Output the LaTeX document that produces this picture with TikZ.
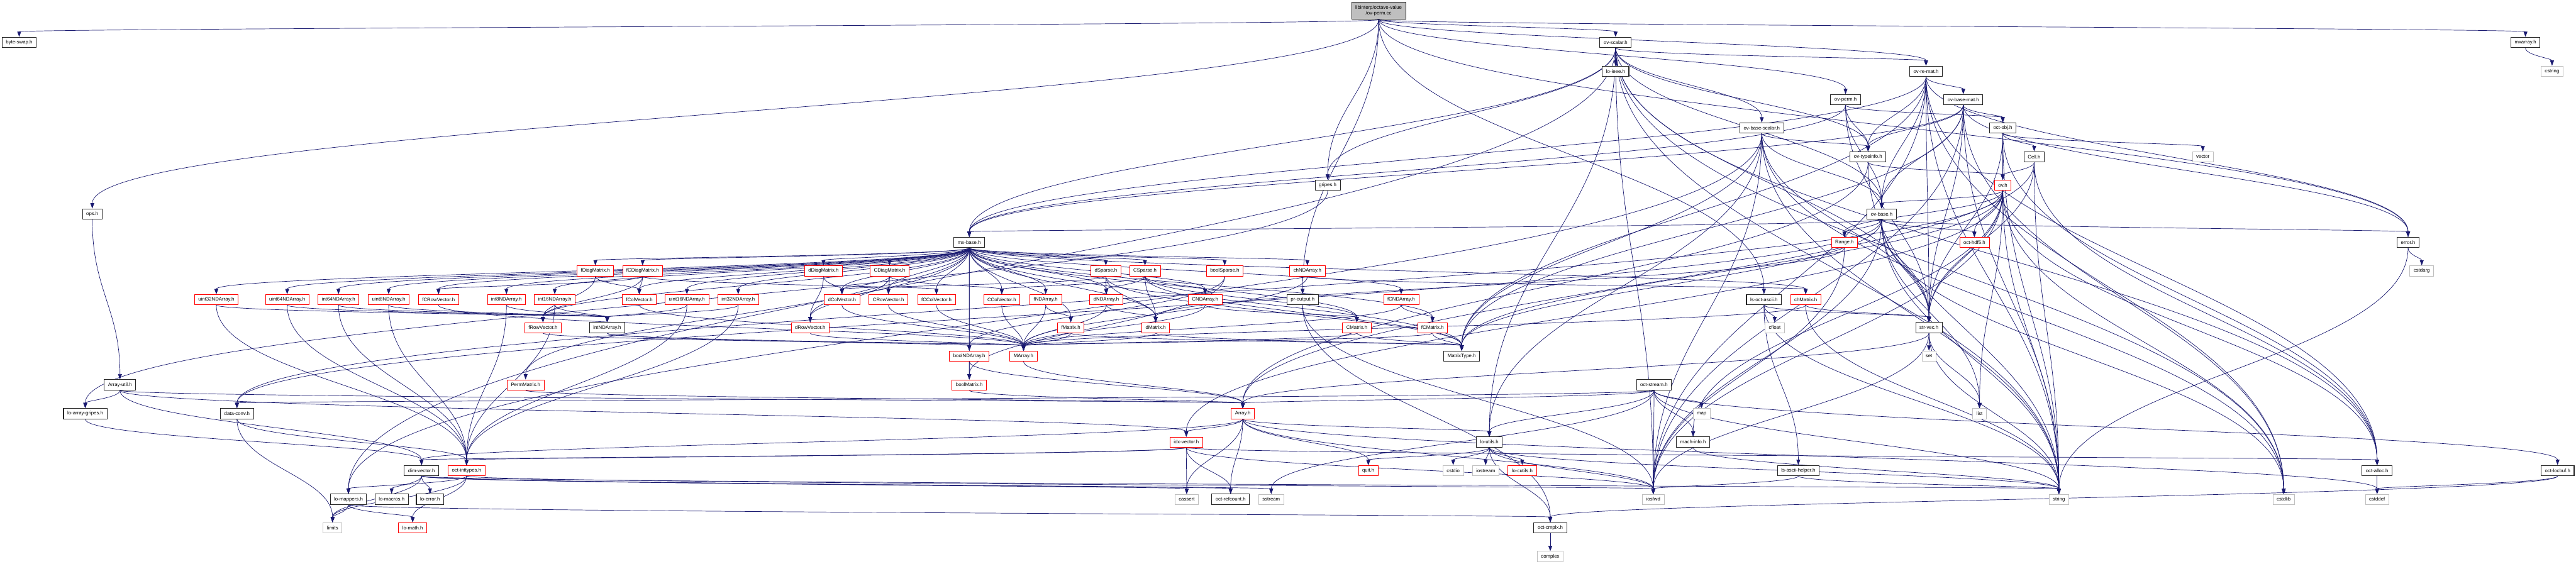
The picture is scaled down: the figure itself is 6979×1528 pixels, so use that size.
\documentclass[tikz,border=0pt]{standalone}
\usepackage{fontspec}
\newfontfamily\dfont{Liberation Sans}
\usetikzlibrary{arrows.meta,calc}
\definecolor{edgeblue}{HTML}{191970}
\definecolor{sysgrey}{HTML}{BFBFBF}
\pgfdeclarelayer{bg}
\pgfsetlayers{bg,main}
\tikzset{
  box/.style={draw, font=\dfont\fontsize{3.33}{4.1}\selectfont, minimum height=7pt, inner xsep=2.6pt, inner ysep=0pt, fill=white},
  blk/.style={box, draw=black!85, line width=0.45pt},
  redbox/.style={box, draw=red, line width=0.3pt},
  sys/.style={box, draw=sysgrey, line width=0.3pt},
  rootbox/.style={box, draw=black!85, line width=0.45pt, fill=sysgrey, align=center, minimum height=11.75pt, inner ysep=1pt},
  dep/.style={draw=edgeblue, line width=0.3pt, -{Triangle[length=3.6pt,width=2.6pt]},
    to path={.. controls ($(\tikztostart)!0.45!(\tikztostart |- \tikztotarget)$) and ($(\tikztotarget)!0.45!(\tikztotarget |- \tikztostart)$) .. (\tikztotarget)}}
}
\begin{document}
\begin{tikzpicture}[x=0.25pt,y=-0.25pt]
\useasboundingbox (0,0) rectangle (6979,1528);
% rank 0-8
\node[rootbox] (root) at (3735,29) {libinterp/octave-value\\/ov-perm.cc};
\node[blk] (byteswap) at (52,115) {byte-swap.h};
\node[blk] (ovscalar) at (4377,115) {ov-scalar.h};
\node[blk] (mxarray) at (6842,115) {mxarray.h};
\node[blk] (loieee) at (4377,193) {lo-ieee.h};
\node[blk] (ovremat) at (5218,193) {ov-re-mat.h};
\node[sys] (cstring) at (6914,193) {cstring};
\node[blk] (ovpermh) at (5000,270) {ov-perm.h};
\node[blk] (ovbasemat) at (5319,270) {ov-base-mat.h};
\node[blk] (ovbasescalar) at (4773,347) {ov-base-scalar.h};
\node[blk] (octobj) at (5426,347) {oct-obj.h};
\node[blk] (ovtypeinfo) at (5061,425) {ov-typeinfo.h};
\node[blk] (cell) at (5511,425) {Cell.h};
\node[sys] (vector) at (5968,425) {vector};
\node[blk] (gripes) at (3597,502) {gripes.h};
\node[redbox] (ovh) at (5426,502) {ov.h};
\node[blk] (ops) at (250,580) {ops.h};
\node[blk] (ovbase) at (5098,580) {ov-base.h};
\node[blk] (mxbase) at (2626,657) {mx-base.h};
\node[redbox] (range) at (4997,657) {Range.h};
\node[redbox] (octhdf5) at (5349,657) {oct-hdf5.h};
\node[blk] (error) at (6524,657) {error.h};
% rank 9
\node[redbox] (fDiag) at (1613,734) {fDiagMatrix.h};
\node[redbox] (fCDiag) at (1741,734) {fCDiagMatrix.h};
\node[redbox] (dDiag) at (2231,734) {dDiagMatrix.h};
\node[redbox] (CDiag) at (2410,734) {CDiagMatrix.h};
\node[redbox] (dSparse) at (2996,734) {dSparse.h};
\node[redbox] (CSparse) at (3102,734) {CSparse.h};
\node[redbox] (boolSparse) at (3318,734) {boolSparse.h};
\node[redbox] (chNDArray) at (3542,734) {chNDArray.h};
\node[sys] (cstdarg) at (6561,734) {cstdarg};
% rank 10
\node[redbox] (uint32) at (586,812) {uint32NDArray.h};
\node[redbox] (uint64) at (778,812) {uint64NDArray.h};
\node[redbox] (int64) at (917,812) {int64NDArray.h};
\node[redbox] (uint8) at (1053,812) {uint8NDArray.h};
\node[redbox] (fCRowVec) at (1188,812) {fCRowVector.h};
\node[redbox] (int8) at (1372,812) {int8NDArray.h};
\node[redbox] (int16) at (1503,812) {int16NDArray.h};
\node[redbox] (fColVec) at (1732,812) {fColVector.h};
\node[redbox] (uint16) at (1861,812) {uint16NDArray.h};
\node[redbox] (int32) at (2000,812) {int32NDArray.h};
\node[redbox] (dColVec) at (2281,812) {dColVector.h};
\node[redbox] (CRowVec) at (2407,812) {CRowVector.h};
\node[redbox] (fCColVec) at (2537,812) {fCColVector.h};
\node[redbox] (CColVec) at (2714,812) {CColVector.h};
\node[redbox] (fNDArray) at (2833,812) {fNDArray.h};
\node[redbox] (dNDArray) at (2997,812) {dNDArray.h};
\node[redbox] (CNDArray) at (3265,812) {CNDArray.h};
\node[blk] (proutput) at (3529,812) {pr-output.h};
\node[redbox] (fCNDArray) at (3796,812) {fCNDArray.h};
\node[blk] (lsoctascii) at (4779,812) {ls-oct-ascii.h};
\node[redbox] (chMatrix) at (4892,812) {chMatrix.h};
% rank 11
\node[redbox] (fRowVec) at (1471,888) {fRowVector.h};
\node[blk] (intNDArray) at (1645,888) {intNDArray.h};
\node[redbox] (dRowVec) at (2195,888) {dRowVector.h};
\node[redbox] (fMatrix) at (2901,888) {fMatrix.h};
\node[redbox] (dMatrix) at (3131,888) {dMatrix.h};
\node[redbox] (CMatrix) at (3676,888) {CMatrix.h};
\node[redbox] (fCMatrix) at (3881,888) {fCMatrix.h};
\node[sys] (cfloat) at (4808,888) {cfloat};
\node[blk] (strvec) at (5226,888) {str-vec.h};
% rank 12
\node[redbox] (boolNDArray) at (2626,965) {boolNDArray.h};
\node[redbox] (MArray) at (2773,965) {MArray.h};
\node[blk] (MatrixType) at (3960,965) {MatrixType.h};
\node[sys] (set) at (5226,965) {set};
% rank 13
\node[blk] (ArrayUtil) at (325,1043) {Array-util.h};
\node[redbox] (PermMatrix) at (1424,1043) {PermMatrix.h};
\node[redbox] (boolMatrix) at (2626,1043) {boolMatrix.h};
\node[blk] (octstream) at (4481,1043) {oct-stream.h};
% rank 14
\node[blk] (loarraygripes) at (231,1121) {lo-array-gripes.h};
\node[blk] (dataconv) at (642,1121) {data-conv.h};
\node[redbox] (Array) at (3367,1121) {Array.h};
\node[sys] (map) at (4610,1121) {map};
\node[sys] (list) at (5363,1121) {list};
% rank 15
\node[redbox] (idxvector) at (3214,1198) {idx-vector.h};
\node[blk] (loutils) at (4035,1198) {lo-utils.h};
\node[blk] (machinfo) at (4587,1198) {mach-info.h};
% rank 16
\node[blk] (dimvector) at (1142,1275) {dim-vector.h};
\node[redbox] (octinttypes) at (1264,1275) {oct-inttypes.h};
\node[redbox] (quit) at (3707,1275) {quit.h};
\node[sys] (cstdio) at (3937,1275) {cstdio};
\node[sys] (iostream) at (4025,1275) {iostream};
\node[redbox] (locutils) at (4124,1275) {lo-cutils.h};
\node[blk] (lsasciihelper) at (4872,1275) {ls-ascii-helper.h};
\node[blk] (octalloc) at (6440,1275) {oct-alloc.h};
\node[blk] (octlocbuf) at (6929,1275) {oct-locbuf.h};
% rank 17
\node[blk] (lomappers) at (944,1353) {lo-mappers.h};
\node[blk] (lomacros) at (1061,1353) {lo-macros.h};
\node[blk] (loerror) at (1165,1353) {lo-error.h};
\node[sys] (cassert) at (3215,1353) {cassert};
\node[blk] (octrefcount) at (3334,1353) {oct-refcount.h};
\node[sys] (sstream) at (3444,1353) {sstream};
\node[sys] (iosfwd) at (4479,1353) {iosfwd};
\node[sys] (string) at (5578,1353) {string};
\node[sys] (cstdlib) at (6187,1353) {cstdlib};
\node[sys] (cstddef) at (6440,1353) {cstddef};
% rank 18-19
\node[sys] (limits) at (901,1430) {limits};
\node[redbox] (lomath) at (1118,1430) {lo-math.h};
\node[blk] (octcmplx) at (4200,1430) {oct-cmplx.h};
\node[sys] (complex) at (4200,1508) {complex};

\begin{pgfonlayer}{bg}
\foreach \s/\t in {
 root/byteswap, root/ovscalar, root/mxarray, root/ovremat, root/ovpermh, root/gripes, root/ops, root/error, root/proutput, root/lsoctascii,
 ovscalar/loieee, ovscalar/ovremat, ovscalar/gripes, ovscalar/ovbasescalar, ovscalar/ovtypeinfo, ovscalar/ovbase, ovscalar/mxbase, ovscalar/lomappers, ovscalar/loutils, ovscalar/strvec, ovscalar/octalloc, ovscalar/cstdlib, ovscalar/iosfwd, ovscalar/string,
 ovremat/ovbasemat, ovremat/ovtypeinfo, ovremat/ovbase, ovremat/mxbase, ovremat/MatrixType, ovremat/error, ovremat/octalloc, ovremat/strvec, ovremat/cstdlib, ovremat/iosfwd, ovremat/string,
 ovpermh/octobj, ovpermh/ovtypeinfo, ovpermh/ovbase, ovpermh/mxbase, ovpermh/strvec,
 ovbasemat/octobj, ovbasemat/ovtypeinfo, ovbasemat/ovbase, ovbasemat/mxbase, ovbasemat/MatrixType, ovbasemat/error, ovbasemat/strvec, ovbasemat/cstdlib, ovbasemat/iosfwd, ovbasemat/string,
 ovbasescalar/ovtypeinfo, ovbasescalar/ovbase, ovbasescalar/lomappers, ovbasescalar/loutils, ovbasescalar/MatrixType, ovbasescalar/strvec, ovbasescalar/cstdlib, ovbasescalar/iosfwd, ovbasescalar/string,
 octobj/cell, octobj/ovh, octobj/vector, octobj/octalloc, octobj/strvec, octobj/string,
 cell/ovh, cell/Array, cell/octalloc, cell/strvec, cell/string,
 ovtypeinfo/ovh, ovtypeinfo/Array, ovtypeinfo/string,
 ovh/ovbase, ovh/range, ovh/octhdf5, ovh/dataconv, ovh/idxvector, ovh/machinfo, ovh/MatrixType, ovh/octalloc, ovh/strvec, ovh/list, ovh/cstdlib, ovh/iosfwd, ovh/string,
 ovbase/range, ovbase/octhdf5, ovbase/error, ovbase/dataconv, ovbase/mxbase, ovbase/MatrixType, ovbase/strvec, ovbase/list, ovbase/cstdlib, ovbase/iosfwd, ovbase/string,
 gripes/loarraygripes, ops/ArrayUtil, mxarray/cstring, error/cstdarg, error/string, range/dMatrix, range/iosfwd}
 { \draw[dep] (\s) to (\t); }
\foreach \t in {fDiag, fCDiag, dDiag, CDiag, dSparse, CSparse, boolSparse, chNDArray, uint32, uint64, int64, uint8, fCRowVec, int8, int16, fColVec, uint16, int32, dColVec, CRowVec, fCColVec, CColVec, fNDArray, dNDArray, CNDArray, fCNDArray, fRowVec, dRowVec, fMatrix, dMatrix, CMatrix, fCMatrix, boolNDArray, boolMatrix, chMatrix, PermMatrix, MatrixType}
 { \draw[dep] (mxbase) to (\t); }
\foreach \s in {int8, int16, int32, int64, uint8, uint16, uint32, uint64}
 { \draw[dep] (\s) to (intNDArray); \draw[dep] (\s) to (octinttypes); }
\foreach \s in {fCRowVec, fColVec, dColVec, CRowVec, fCColVec, CColVec, fRowVec, dRowVec, fNDArray, dNDArray, CNDArray, fCNDArray, fMatrix, dMatrix, CMatrix, fCMatrix, chNDArray, chMatrix, intNDArray}
 { \draw[dep] (\s) to (MArray); }
\foreach \s/\t in {
 fDiag/fRowVec, fDiag/fColVec,
 fCDiag/fCRowVec, fCDiag/fCColVec, fCDiag/fRowVec, fCDiag/fColVec,
 dDiag/dRowVec, dDiag/dColVec,
 CDiag/CRowVec, CDiag/CColVec, CDiag/dRowVec, CDiag/dColVec,
 dSparse/dMatrix, dSparse/dNDArray, dSparse/dColVec, dSparse/MatrixType,
 CSparse/dMatrix, CSparse/dNDArray, CSparse/CNDArray, CSparse/CMatrix, CSparse/CColVec, CSparse/MatrixType,
 boolSparse/boolMatrix, boolSparse/boolNDArray, chNDArray/chMatrix,
 fNDArray/fMatrix, dNDArray/dMatrix, CNDArray/CMatrix, fCNDArray/fCMatrix,
 fMatrix/MatrixType, dMatrix/MatrixType, CMatrix/MatrixType, fCMatrix/MatrixType,
 proutput/octcmplx, proutput/iosfwd,
 lsoctascii/cfloat, lsoctascii/strvec, lsoctascii/lsasciihelper, lsoctascii/string,
 chMatrix/strvec, chMatrix/string, intNDArray/boolNDArray,
 strvec/set, strvec/list, strvec/string, strvec/Array, strvec/iosfwd,
 boolNDArray/boolMatrix, boolNDArray/Array, MArray/Array, boolMatrix/Array, PermMatrix/Array,
 ArrayUtil/loarraygripes, ArrayUtil/dimvector, ArrayUtil/Array, ArrayUtil/idxvector,
 octstream/map, octstream/machinfo, octstream/iosfwd, octstream/sstream, octstream/string, octstream/loutils, octstream/dataconv, octstream/Array, octstream/octlocbuf,
 loarraygripes/dimvector, dataconv/limits, dataconv/octinttypes,
 Array/idxvector, Array/cassert, Array/octrefcount, Array/dimvector, Array/loutils, Array/quit, Array/cstddef, Array/iosfwd,
 idxvector/cassert, idxvector/octrefcount, idxvector/dimvector, idxvector/octinttypes, idxvector/octalloc, idxvector/iosfwd,
 loutils/cstdio, loutils/iostream, loutils/locutils, loutils/quit, loutils/octcmplx, loutils/iosfwd, loutils/string,
 machinfo/string,
 dimvector/lomacros, dimvector/loerror, dimvector/limits, dimvector/sstream, dimvector/string, dimvector/cassert, dimvector/octrefcount,
 octinttypes/lomath, octinttypes/lomappers, octinttypes/limits, octinttypes/iosfwd,
 lomappers/limits, lomappers/lomath, lomappers/octcmplx,
 lsasciihelper/iosfwd, lsasciihelper/string,
 octalloc/cstddef, octlocbuf/cstddef, octlocbuf/octcmplx, octcmplx/complex}
 { \draw[dep] (\s) to (\t); }
\end{pgfonlayer}
\end{tikzpicture}
\end{document}
